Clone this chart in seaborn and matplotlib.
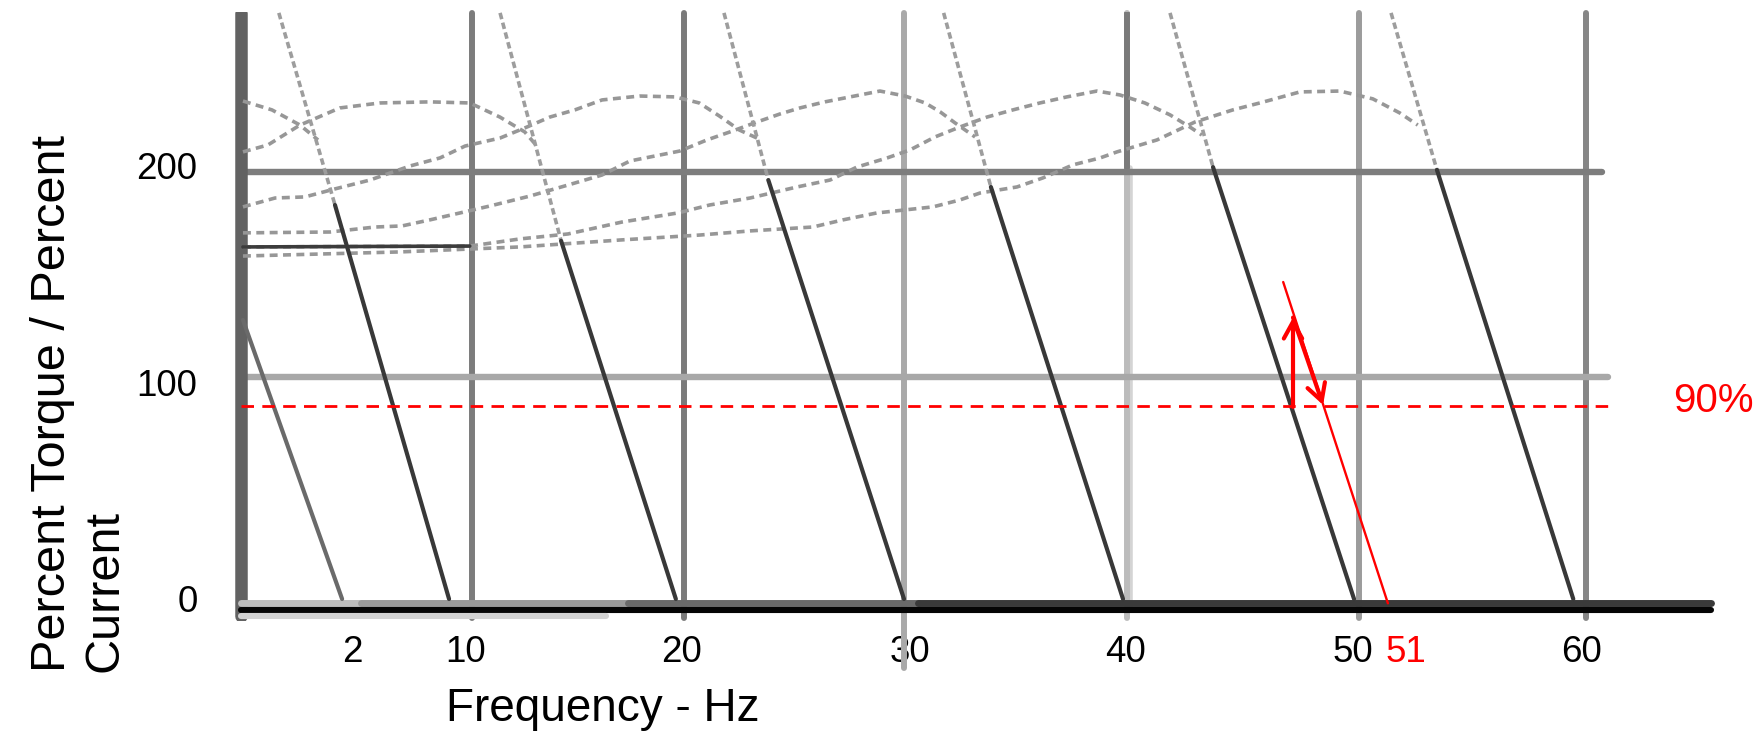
import matplotlib
matplotlib.use("Agg")
import matplotlib.pyplot as plt
import seaborn as sns

# --- values (x in Hz, y in percent) ---
# steep torque lines: top end, point where the line turns dark, zero crossing
STEEP_LABELS = ["2", "10", "20", "30", "40", "50", "60"]
STEEP_TOP_HZ = [-0.28, 1.33, 11.26, 21.31, 31.17, 41.33, 51.25]
STEEP_TOP_PCT = [128.9, 270.7, 270.7, 270.7, 270.7, 270.7, 270.7]
STEEP_BREAK_HZ = [-0.28, 3.85, 14.0, 23.3, 33.29, 43.26, 53.31]
STEEP_BREAK_PCT = [128.9, 182.0, 165.4, 193.5, 190.3, 199.5, 198.2]
STEEP_ZERO_HZ = [4.17, 8.97, 19.15, 29.39, 39.22, 49.59, 59.43]

# dashed breakdown humps, one per frequency
C10_HZ = [-0.28, 1.02, 2.28, 3.09]
C10_PCT = [230.0, 225.9, 218.9, 212.0]
C20_HZ = [-0.28, 0.84, 2.28, 4.07, 5.87, 8.11, 9.9, 11.25, 12.37, 12.87]
C20_PCT = [206.5, 209.7, 218.9, 226.8, 229.1, 229.6, 229.1, 222.6, 215.7, 209.7]
C30_HZ = [-0.28, 1.16, 2.5, 3.85, 5.42, 7.22, 8.56, 9.69, 11.26, 12.38, 13.5,
          14.62, 15.84, 17.52, 19.11, 20.2, 21.1, 22.0, 22.79]
C30_PCT = [181.1, 185.2, 185.7, 189.4, 193.5, 200.0, 203.7, 209.2, 212.9, 217.6,
           222.6, 225.9, 230.5, 232.3, 231.9, 229.1, 223.1, 216.6, 212.9]
C40_HZ = [-0.28, 3.63, 5.65, 6.86, 8.11, 9.46, 10.8, 12.6, 14.31, 15.83, 17.09,
          18.21, 19.33, 20.54, 21.71, 22.79, 23.82, 24.72, 25.84, 26.97, 28.31,
          29.44, 30.34, 31.01, 31.68, 32.58]
C40_PCT = [169.1, 169.5, 171.8, 172.3, 175.1, 178.3, 181.5, 186.1, 191.2, 195.8,
           202.3, 204.6, 206.9, 212.0, 216.2, 220.3, 224.0, 226.8, 229.6, 231.9,
           234.6, 232.3, 229.1, 225.0, 219.9, 213.4]
C50_HZ = [-0.28, 9.9, 12.15, 14.31, 16.73, 19.24, 20.68, 22.48, 24.59, 26.07,
          27.28, 28.63, 29.66, 30.78, 31.9, 33.12, 34.28, 35.49, 36.7, 38.05,
          39.08, 40.2, 41.33, 42.22, 42.76]
C50_PCT = [162.6, 163.0, 166.3, 168.6, 174.1, 178.3, 182.0, 185.2, 190.3, 193.5,
           199.5, 203.7, 207.4, 213.4, 218.0, 222.6, 225.9, 229.1, 231.9, 234.6,
           232.8, 229.1, 223.6, 218.0, 214.3]
C60_HZ = [-0.28, 6.77, 12.15, 16.64, 20.23, 22.48, 25.3, 26.65, 28.17, 30.69,
          31.9, 32.8, 34.46, 35.63, 36.97, 38.19, 38.95, 40.74, 42.45, 44.15,
          45.36, 47.16, 48.95, 50.43, 51.64, 52.45]
C60_PCT = [158.4, 160.3, 162.6, 165.8, 168.1, 170.0, 171.8, 175.1, 178.3, 181.1,
           184.3, 187.5, 190.3, 194.5, 200.5, 203.7, 206.5, 212.0, 220.3, 225.9,
           229.1, 234.2, 234.6, 231.0, 224.5, 218.9]

# scanned grid
VGRID_HZ = [10.0, 19.52, 29.39, 39.4, 49.82, 60.0]
VGRID_COLORS = ["#7c7c7c", "#7a7a7a", "#a9a9a9", "#bcbcbc", "#9c9c9c", "#868686"]
HGRID_PCT = [102.5, 197.2]
HGRID_END_HZ = [60.97, 60.7]
HGRID_COLORS = ["#a8a8a8", "#7d7d7d"]

# red annotation
LIMIT_PCT = 89
LIMIT_END_HZ = 61.1
SHIFT_LINE_HZ = [46.41, 51.11]
SHIFT_LINE_PCT = [146.4, -2.0]
ARROW_UP_HZ = [46.85, 46.85]
ARROW_UP_PCT = [88.7, 130.0]
ARROW_DOWN_HZ = [46.85, 48.2]
ARROW_DOWN_PCT = [130.0, 89.6]
LIMIT_LABEL_HZ, LIMIT_LABEL_PCT = 65.7, 91.5

XTICK_HZ = [4.61, 9.73, 19.42, 29.66, 39.35, 49.55, 51.92, 59.78]
XTICK_LABELS = ["2", "10", "20", "30", "40", "50", "51", "60"]
YTICKS = [0, 100, 200]

sns.set_theme(style="white")
plt.rcParams["font.family"] = ["Liberation Sans", "DejaVu Sans"]
plt.rcParams["text.color"] = "black"
plt.rcParams["axes.labelcolor"] = "black"

fig = plt.figure(figsize=(17.61, 7.31), dpi=100)
ax = fig.add_axes([0.13265, 0.15096, 0.8502, 0.8323])
ax.set_xlim(-0.7, 66.5)
ax.set_ylim(-10, 271)
for s in ax.spines.values():
    s.set_visible(False)


def draw(xs, ys, color, lw, ls="-", z=3, clip=True):
    sns.lineplot(x=xs, y=ys, ax=ax, color=color, linewidth=lw, linestyle=ls,
                 sort=False, estimator=None, legend=False, zorder=z,
                 clip_on=clip)


# --- grid and frame ---
for hz, col in zip(VGRID_HZ, VGRID_COLORS):
    bottom = -32 if hz == VGRID_HZ[2] else -9
    draw([hz, hz], [bottom, 270.7], col, 4.3, z=1, clip=False)
# 40 Hz line is dark above, washed out and wider lower down
draw([VGRID_HZ[3], VGRID_HZ[3]], [199, 270.7], "#7a7a7a", 4.3, z=1)
draw([VGRID_HZ[3] + 0.15, VGRID_HZ[3] + 0.15], [-5, 199], "#d4d4d4", 4.0, z=0.9)

for p, end, col in zip(HGRID_PCT, HGRID_END_HZ, HGRID_COLORS):
    draw([-0.35, end], [p, p], col, 4.6, z=1)

draw([-0.35, -0.35], [-8, 270.7], "#626262", 9.0, z=2)
# bottom axis: grey band, black rule, pale band under the left part
draw([-0.35, 5.0], [-2.0, -2.0], "#bdbdbd", 5.0, z=2)
draw([5.0, 17.0], [-2.0, -2.0], "#9a9a9a", 5.0, z=2)
draw([17.0, 30.0], [-2.0, -2.0], "#6a6a6a", 5.0, z=2)
draw([30.0, 65.6], [-2.0, -2.0], "#3a3a3a", 5.0, z=2)
draw([-0.35, 65.6], [-5.1, -5.1], "#050505", 4.4, z=2)
draw([-0.35, 16.0], [-8.0, -8.0], "#d2d2d2", 4.4, z=2)

# --- dashed humps ---
hump_style = dict(color="#979797", lw=2.6, ls=(0, (2.2, 1.5)), z=3)
for xs, ys in [(C10_HZ, C10_PCT), (C20_HZ, C20_PCT), (C30_HZ, C30_PCT),
               (C40_HZ, C40_PCT), (C50_HZ, C50_PCT), (C60_HZ, C60_PCT)]:
    draw(xs, ys, **hump_style)
draw(C50_HZ[:2], C50_PCT[:2], "#3c3c3c", 2.6, z=3.5)

# --- steep lines ---
for i, lab in enumerate(STEEP_LABELS):
    if STEEP_TOP_PCT[i] > STEEP_BREAK_PCT[i]:
        draw([STEEP_TOP_HZ[i], STEEP_BREAK_HZ[i]],
             [STEEP_TOP_PCT[i], STEEP_BREAK_PCT[i]],
             "#9d9d9d", 2.6, ls=(0, (1.8, 1.0)), z=3.2)
    col = "#6a6a6a" if lab == "2" else "#383838"
    draw([STEEP_BREAK_HZ[i], STEEP_ZERO_HZ[i]], [STEEP_BREAK_PCT[i], 0],
         col, 3.0, z=4)

# --- red annotation ---
draw([-0.35, LIMIT_END_HZ], [LIMIT_PCT, LIMIT_PCT], "red", 2.0,
     ls=(0, (4.5, 3.0)), z=5)
draw(SHIFT_LINE_HZ, SHIFT_LINE_PCT, "red", 1.7, z=5)
arrow = dict(arrowstyle="->,head_length=0.6,head_width=0.33", color="red",
             lw=3.0, shrinkA=0, shrinkB=0, mutation_scale=20)
ax.annotate("", xy=(ARROW_UP_HZ[1], ARROW_UP_PCT[1]),
            xytext=(ARROW_UP_HZ[0], ARROW_UP_PCT[0]), arrowprops=arrow, zorder=6)
ax.annotate("", xy=(ARROW_DOWN_HZ[1], ARROW_DOWN_PCT[1]),
            xytext=(ARROW_DOWN_HZ[0], ARROW_DOWN_PCT[0]), arrowprops=arrow, zorder=6)
ax.text(LIMIT_LABEL_HZ, LIMIT_LABEL_PCT, "90%", color="red", fontsize=29,
        ha="center", va="center", clip_on=False)

# --- ticks and labels ---
ax.set_xticks(XTICK_HZ, XTICK_LABELS)
ax.set_yticks(YTICKS, [str(v) for v in YTICKS])
ax.tick_params(axis="x", length=0, pad=10, labelsize=26.5, labelcolor="black")
ax.tick_params(axis="y", length=0, pad=26, labelsize=26.5, labelcolor="black")
ax.get_xticklabels()[XTICK_LABELS.index("51")].set_color("red")
ax.grid(False)

fig.text(0.0446, 0.0807, "Percent Torque / Percent\nCurrent", rotation=90,
         ha="center", va="bottom", multialignment="left", fontsize=35,
         color="black")
fig.text(0.3424, 0.0301, "Frequency - Hz", ha="center", va="center",
         fontsize=33, color="black")

fig.savefig("out.png", dpi=100, facecolor="white")
